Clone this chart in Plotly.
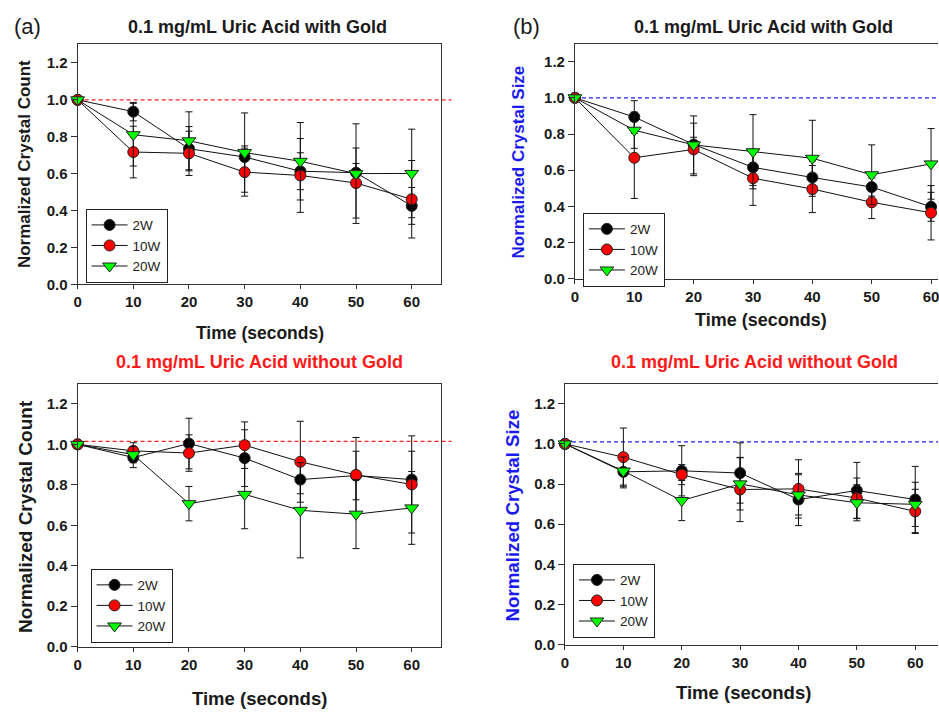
import plotly.graph_objects as go

# ---------------- data ----------------
time = [0, 10, 20, 30, 40, 50, 60]
series_names = ["2W", "10W", "20W"]

# (a) Normalized crystal count, with gold
a_2w = [1.0, 0.936, 0.735, 0.69, 0.613, 0.605, 0.425]
a_2w_err = [0, 0.05, 0.12, 0.06, 0.1, 0.05, 0.1]
a_10w = [1.0, 0.717, 0.71, 0.608, 0.59, 0.549, 0.461]
a_10w_err = [0, 0.14, 0.12, 0.13, 0.2, 0.19, 0.21]
a_20w = [1.0, 0.811, 0.778, 0.714, 0.667, 0.6, 0.601]
a_20w_err = [0, 0.17, 0.157, 0.215, 0.21, 0.27, 0.24]

# (b) Normalized crystal size, with gold
b_2w = [1.0, 0.894, 0.742, 0.616, 0.56, 0.507, 0.398]
b_2w_err = [0, 0.09, 0.04, 0.1, 0.09, 0.05, 0.08]
b_10w = [1.0, 0.669, 0.715, 0.556, 0.496, 0.423, 0.365]
b_10w_err = [0, 0.225, 0.145, 0.15, 0.13, 0.09, 0.15]
b_20w = [1.0, 0.821, 0.74, 0.702, 0.666, 0.575, 0.635]
b_20w_err = [0, 0.1, 0.16, 0.205, 0.21, 0.165, 0.195]

# (c) Normalized crystal count, without gold
c_2w = [1.0, 0.935, 1.004, 0.932, 0.826, 0.846, 0.826]
c_2w_err = [0, 0.05, 0.125, 0.14, 0.07, 0.12, 0.14]
c_10w = [1.0, 0.968, 0.957, 0.996, 0.914, 0.849, 0.802]
c_10w_err = [0, 0.04, 0.09, 0.115, 0.2, 0.185, 0.24]
c_20w = [1.0, 0.949, 0.707, 0.753, 0.674, 0.655, 0.686]
c_20w_err = [0, 0.04, 0.085, 0.17, 0.235, 0.17, 0.18]

# (d) Normalized crystal size, without gold
d_2w = [1.0, 0.861, 0.866, 0.855, 0.723, 0.768, 0.723]
d_2w_err = [0, 0.08, 0.125, 0.15, 0.13, 0.14, 0.165]
d_10w = [1.0, 0.934, 0.847, 0.773, 0.776, 0.73, 0.664]
d_10w_err = [0, 0.145, 0.05, 0.16, 0.145, 0.1, 0.11]
d_20w = [1.0, 0.865, 0.718, 0.801, 0.746, 0.707, 0.699]
d_20w_err = [0, 0.07, 0.1, 0.13, 0.1, 0.09, 0.11]

ref_a, ref_b, ref_c, ref_d = 1.0, 1.0, 1.015, 1.01

y_ticks = [0.0, 0.2, 0.4, 0.6, 0.8, 1.0, 1.2]
x_ticks = [0, 10, 20, 30, 40, 50, 60]

# ---------------- styling ----------------
W, H = 939, 716
FONT = "Arial, Liberation Sans, sans-serif"
marker_styles = [
    dict(symbol="circle", color="#000000", size=11),
    dict(symbol="circle", color="#ff0000", size=11),
    dict(symbol="triangle-down", color="#00ff00", size=12),
]


def px(x):
    return x / W


def py(y):
    return 1 - y / H


panels = [
    dict(data=[(a_2w, a_2w_err), (a_10w, a_10w_err), (a_20w, a_20w_err)],
         xd=(74, 439), yd=(45, 287.5), xr=[0, 65.2], box=True, leg=(82, 211),
         ref=ref_a, refc="#ff2020"),
    dict(data=[(b_2w, b_2w_err), (b_10w, b_10w_err), (b_20w, b_20w_err)],
         xd=(574, 939), yd=(44, 282), xr=[0, 61.17], box=False, leg=(582, 215),
         ref=ref_b, refc="#2020ff"),
    dict(data=[(c_2w, c_2w_err), (c_10w, c_10w_err), (c_20w, c_20w_err)],
         xd=(74, 439), yd=(388, 654), xr=[0, 65.2], box=True, leg=(87, 575),
         ref=ref_c, refc="#ff2020"),
    dict(data=[(d_2w, d_2w_err), (d_10w, d_10w_err), (d_20w, d_20w_err)],
         xd=(564, 939), yd=(388, 652), xr=[0, 63.9], box=False, leg=(572, 570),
         ref=ref_d, refc="#2020ff"),
]

fig = go.Figure()
layout = dict(
    width=W, height=H, margin=dict(l=0, r=0, t=0, b=0),
    paper_bgcolor="white", plot_bgcolor="white",
    font=dict(family=FONT, color="#1a1a1a"),
    shapes=[], annotations=[],
)

for i, p in enumerate(panels):
    n = "" if i == 0 else str(i + 1)
    xa, ya = "x" + n, "y" + n
    leg = "legend" + n
    layout["shapes"].append(dict(
        type="line", xref=xa + " domain", yref=ya, x0=0, x1=1.03 if p["box"] else 1.0,
        y0=p["ref"], y1=p["ref"], line=dict(color=p["refc"], width=1.2, dash="4px,3px"),
        layer="below"))
    for k, (vals, errs) in enumerate(p["data"]):
        ms = marker_styles[k]
        fig.add_trace(go.Scatter(
            x=time, y=vals, name=series_names[k], mode="lines+markers",
            xaxis=xa, yaxis=ya, legend=leg, cliponaxis=False,
            line=dict(color="#111111", width=1),
            marker=dict(symbol=ms["symbol"], color=ms["color"], size=ms["size"],
                        line=dict(color="#222222", width=1)),
            error_y=dict(type="data", array=errs, visible=True, color="#111111",
                         thickness=1, width=3.5),
        ))
    xkey = "xaxis" + n
    ykey = "yaxis" + n
    layout[xkey] = dict(
        domain=[px(p["xd"][0]), min(1.0, px(p["xd"][1]))], anchor=ya, range=p["xr"],
        tickvals=x_ticks, ticks="outside", ticklen=4, tickcolor="#333",
        showline=True, linecolor="#333", linewidth=1, mirror=True,
        showgrid=False, zeroline=False, ticklabeloverflow="allow",
        tickfont=dict(family=FONT, size=15, weight="bold", color="#1a1a1a"),
    )
    layout[ykey] = dict(
        domain=[py(p["yd"][1]), py(p["yd"][0])], anchor=xa, range=[0, 1.3],
        tickvals=y_ticks, tickformat=".1f", ticks="outside", ticklen=6, tickcolor="#333",
        showline=True, linecolor="#333", linewidth=1, mirror=p["box"],
        showgrid=False, zeroline=False,
        tickfont=dict(family=FONT, size=15, weight="bold", color="#1a1a1a"),
    )
    layout[leg] = dict(
        x=px(p["leg"][0]), y=py(p["leg"][1]), xanchor="left", yanchor="top",
        bordercolor="#222", borderwidth=1, bgcolor="white",
        font=dict(family=FONT, size=13.5, color="#222"), traceorder="normal",
        tracegroupgap=0, itemwidth=36,
    )


def ann(text, x, y, size, color="#1a1a1a", bold=True, angle=0, xanchor="center"):
    layout["annotations"].append(dict(
        text=text, x=px(x), y=py(y), xref="paper", yref="paper",
        xanchor=xanchor, yanchor="middle", showarrow=False, textangle=angle,
        font=dict(family=FONT, size=size, color=color, weight="bold" if bold else "normal"),
    ))


# panel labels
ann("(a)", 8, 27, 22, bold=False, xanchor="left")
ann("(b)", 510, 27, 22, bold=False, xanchor="left")
# titles
ann("0.1 mg/mL Uric Acid with Gold", 255, 27, 18)
ann("0.1 mg/mL Uric Acid with Gold", 764, 27, 18)
ann("0.1 mg/mL Uric Acid without Gold", 257, 366, 18, color="#ff1a1a")
ann("0.1 mg/mL Uric Acid without Gold", 755, 366, 18, color="#ff1a1a")
# x titles
ann("Time (seconds)", 257, 337, 17.5)
ann("Time (seconds)", 761, 324, 18)
ann("Time (seconds)", 257, 706, 18.5)
ann("Time (seconds)", 743, 700, 18.5)
# y titles
ann("Normalized Crystal Count", 20, 166, 17, angle=-90)
ann("Normalized Crystal Size", 517, 164, 17, color="#1a1aee", angle=-90)
ann("Normalized Crystal Count", 21, 522, 19, angle=-90)
ann("Normalized Crystal Size", 511, 521, 18.7, color="#1a1aee", angle=-90)

fig.update_layout(**layout)
fig.write_html(
    "out.html",
    config={"displayModeBar": False},
    post_script="document.body.style.margin='0';document.body.style.overflow='hidden';",
)
